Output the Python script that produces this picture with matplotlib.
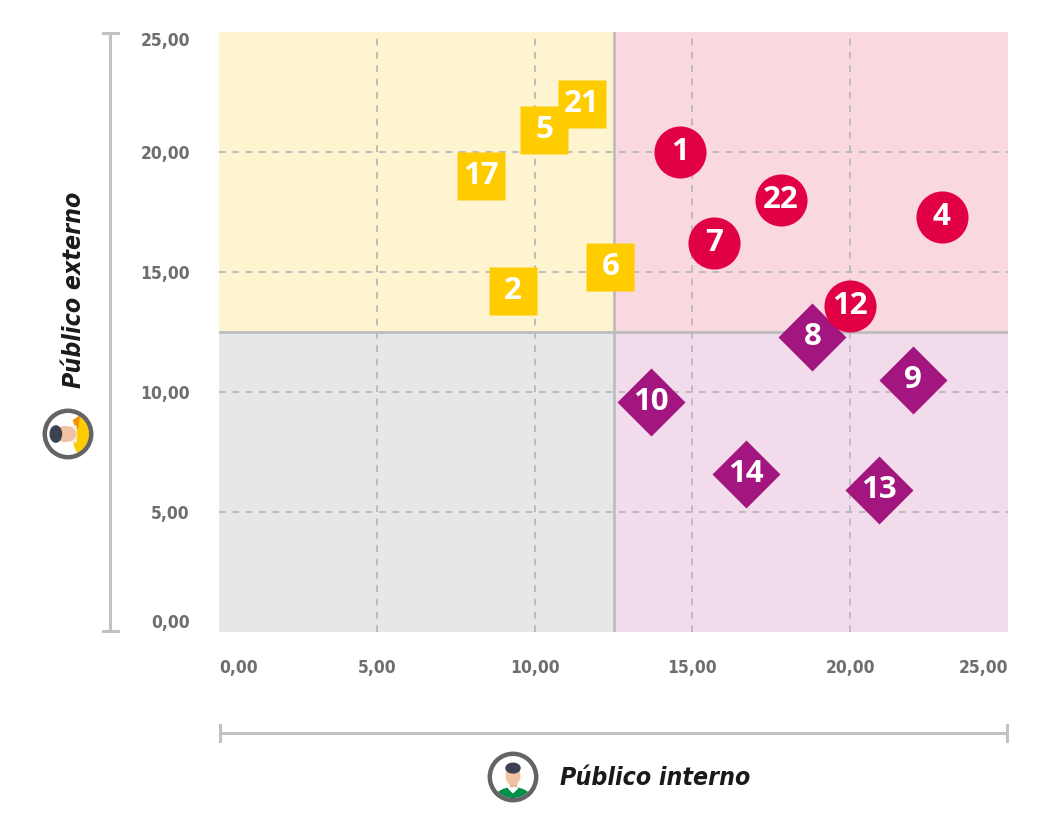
import matplotlib
matplotlib.use("Agg")
import matplotlib.pyplot as plt
from matplotlib.patches import Circle, Ellipse, Rectangle, Polygon
from matplotlib.lines import Line2D

# data
yellow_ids = ["21", "5", "17", "2", "6"]
yellow_x = [11.5, 10.3, 8.3, 9.3, 12.4]
yellow_y = [22.0, 20.9, 19.0, 14.2, 15.2]

red_ids = ["1", "22", "7", "4", "12"]
red_x = [14.6, 17.8, 15.7, 22.9, 20.0]
red_y = [20.0, 18.0, 16.2, 17.3, 13.6]

purple_ids = ["8", "9", "10", "14", "13"]
purple_x = [18.8, 22.0, 13.7, 16.7, 20.9]
purple_y = [12.3, 10.5, 9.6, 6.6, 5.9]

ticks = [0, 5, 10, 15, 20, 25]
tick_labels = ["0,00", "5,00", "10,00", "15,00", "20,00", "25,00"]
split = 12.5

W, H = 1051, 834
GRAY_TXT = "#6d6e71"
LINE_GRAY = "#c2c2c2"


def fx(px):
    return px / W


def fy(py):
    return 1 - py / H


fig = plt.figure(figsize=(W / 100, H / 100), dpi=100)
ax = fig.add_axes([fx(219), fy(632), fx(1008) - fx(219), fy(32) - fy(632)])
ax.set_xlim(0, 25)
ax.set_ylim(0, 25)

# quadrant backgrounds
ax.add_patch(Rectangle((0, split), split, 25 - split, color="#fef4cf", zorder=0))
ax.add_patch(Rectangle((split, split), 25 - split, 25 - split, color="#f9d8e0", zorder=0))
ax.add_patch(Rectangle((0, 0), split, split, color="#e6e7e8", zorder=0))
ax.add_patch(Rectangle((split, 0), 25 - split, split, color="#f2dbeb", zorder=0))

for t in ticks[1:-1]:
    ax.axvline(t, color="#b4b4b4", lw=1.2, ls=(0, (4, 4)), zorder=1)
    ax.axhline(t, color="#b4b4b4", lw=1.2, ls=(0, (4, 4)), zorder=1)
ax.axvline(split, color="#bdbdbd", lw=2, zorder=2)
ax.axhline(split, color="#bdbdbd", lw=2, zorder=2)

ms = 34.5
ax.plot(purple_x, purple_y, "D", ms=ms, color="#a3167f", mec="none", zorder=3)
ax.plot(yellow_x, yellow_y, "s", ms=ms, color="#ffcc00", mec="none", zorder=4)
ax.plot(red_x, red_y, "o", ms=37.5, color="#e20045", mec="none", zorder=5)

for ids, xs, ys in [(purple_ids, purple_x, purple_y),
                    (yellow_ids, yellow_x, yellow_y),
                    (red_ids, red_x, red_y)]:
    for lab, x, y in zip(ids, xs, ys):
        ax.text(x, y, lab, color="white", fontsize=22.5, fontweight="bold",
                family=["Open Sans", "DejaVu Sans"], ha="center", va="center", zorder=6)

for s in ax.spines.values():
    s.set_visible(False)
ax.set_xticks(ticks)
ax.set_yticks(ticks)
ax.set_xticklabels(tick_labels)
ax.set_yticklabels(tick_labels)
ax.tick_params(length=0, labelsize=12.5, labelcolor=GRAY_TXT)
ax.tick_params(axis="x", pad=19.5)
ax.tick_params(axis="y", pad=21)
for lab in ax.get_xticklabels() + ax.get_yticklabels():
    lab.set_fontweight("bold")
    lab.set_fontstretch("condensed")
ax.get_xticklabels()[0].set_ha("left")
ax.get_xticklabels()[-1].set_ha("right")
ax.get_yticklabels()[0].set_va("bottom")
ax.get_yticklabels()[-1].set_va("top")

# bracket lines
fig.add_artist(Line2D([fx(110), fx(110)], [fy(33), fy(631)], color=LINE_GRAY, lw=2.2))
for py in (33, 631):
    fig.add_artist(Line2D([fx(103), fx(118)], [fy(py), fy(py)], color=LINE_GRAY, lw=2.2))
fig.add_artist(Line2D([fx(220), fx(1007)], [fy(733), fy(733)], color=LINE_GRAY, lw=2.2))
for px in (220, 1007):
    fig.add_artist(Line2D([fx(px), fx(px)], [fy(725), fy(741)], color=LINE_GRAY, lw=2.2))

# axis titles
fig.text(fx(560), fy(778), "Público interno", fontsize=17.8, fontweight="bold",
         style="italic", fontstretch="condensed", color="#1a1a1a", ha="left", va="center")
fig.text(fx(74), fy(388), "Público externo", fontsize=17.8, fontweight="bold",
         style="italic", fontstretch="condensed", color="#1a1a1a", rotation=90,
         ha="center", va="bottom")


def icon_axes(cx, cy, r=27):
    iax = fig.add_axes([fx(cx - r), fy(cy + r), 2 * r / W, 2 * r / H])
    iax.set_xlim(-1, 1)
    iax.set_ylim(-1, 1)
    iax.set_aspect("equal")
    iax.axis("off")
    inner = Circle((0, 0), 0.78, color="white", zorder=1)
    iax.add_patch(inner)
    iax.add_patch(Circle((0, 0), 0.86, fill=False, ec="#636466", lw=3.2, zorder=5))
    return iax, inner


# internal public icon (front view, green shirt)
iax, inner = icon_axes(513, 777)
parts = [
    Ellipse((0, -0.95), 1.5, 1.1, color="#00904a", zorder=2),
    Polygon([(-0.18, -0.4), (0.18, -0.4), (0, -0.58)], color="white", zorder=3),
    Rectangle((-0.12, -0.45), 0.24, 0.2, color="#e9b596", zorder=2),
    Ellipse((0, 0.05), 0.5, 0.68, color="#f2c3a2", zorder=3),
    Ellipse((0, 0.33), 0.52, 0.36, color="#3b4150", zorder=4),
]
for p in parts:
    iax.add_patch(p)
    p.set_clip_path(inner)

# external public icon (side view, yellow shirt)
iax, inner = icon_axes(68, 434)
parts = [
    Ellipse((0.55, -0.05), 0.7, 1.5, color="#ffcc00", zorder=2),
    Polygon([(0.2, 0.5), (0.42, 0.65), (0.35, 0.2)], color="#f39200", zorder=3),
    Polygon([(0.05, 0.25), (0.3, 0.3), (0.3, -0.3), (0.05, -0.25)], color="#eeeeee", zorder=3),
    Ellipse((-0.1, 0.0), 0.75, 0.55, color="#f2c3a2", zorder=3),
    Ellipse((-0.45, 0.0), 0.42, 0.6, color="#3b4150", zorder=4),
]
for p in parts:
    iax.add_patch(p)
    p.set_clip_path(inner)

fig.savefig("out.png", dpi=100, facecolor="white")
